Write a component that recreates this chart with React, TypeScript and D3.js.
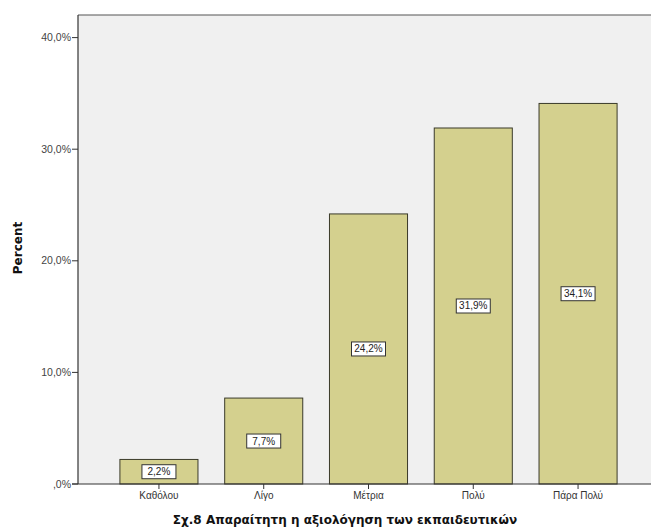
import React from "react";
import * as d3 from "d3";

const categories = ["Καθόλου", "Λίγο", "Μέτρια", "Πολύ", "Πάρα Πολύ"];
const percents = [2.2, 7.7, 24.2, 31.9, 34.1];
const yTicks = [0, 10, 20, 30, 40];
const xTitle = "Σχ.8 Απαραίτητη η αξιολόγηση των εκπαιδευτικών";
const yTitle = "Percent";

const W = 651;
const H = 531;
const left = 78;
const right = 659;
const top = 15;
const bottom = 484;

const fmt = (v: number) => (v === 0 ? ",0%" : v.toFixed(1).replace(".", ",") + "%");

export default function App() {
  const x = d3
    .scaleBand<string>()
    .domain(categories)
    .range([left, right])
    .paddingInner(0.255)
    .paddingOuter(0.4);
  const y = d3.scaleLinear().domain([0, 40]).range([bottom, bottom - 4 * 111.6]);
  const font = "Arial, 'Liberation Sans', sans-serif";
  const titleFont = "'DejaVu Sans', Verdana, sans-serif";

  return (
    <svg
      width={W}
      height={H}
      style={{ position: "absolute", left: 0, top: 0, background: "#fff" }}
      fontFamily={font}
    >
      <rect x={left} y={top} width={right - left} height={bottom - top} fill="#f0f0f0" />
      {categories.map((c, i) => {
        const bx = x(c)!;
        const by = y(percents[i]);
        const bw = x.bandwidth();
        const bh = bottom - by;
        const cx = bx + bw / 2;
        const cy = by + bh / 2;
        const label = fmt(percents[i]);
        return (
          <g key={c}>
            <rect x={bx} y={by} width={bw} height={bh} fill="#d4d08e" stroke="#3a3a2a" strokeWidth={1} />
            <rect x={cx - 17} y={cy - 7} width={34} height={14} fill="#fff" stroke="#333" strokeWidth={1} />
            <text x={cx} y={cy + 3.5} textAnchor="middle" fontSize={10} fill="#222">
              {label}
            </text>
          </g>
        );
      })}
      {/* frame */}
      <line x1={left} y1={top} x2={right} y2={top} stroke="#555" strokeWidth={1.2} />
      <line x1={left} y1={top} x2={left} y2={bottom} stroke="#333" strokeWidth={1.2} />
      <line x1={left - 6} y1={bottom} x2={right} y2={bottom} stroke="#333" strokeWidth={1.2} />
      {yTicks.map((t) => (
        <g key={t}>
          <line x1={left - 6} x2={left} y1={y(t)} y2={y(t)} stroke="#333" />
          <text x={left - 7} y={y(t) + 3.5} textAnchor="end" fontSize={10.5} fill="#444">
            {fmt(t)}
          </text>
        </g>
      ))}
      {categories.map((c) => {
        const cx = x(c)! + x.bandwidth() / 2;
        return (
          <g key={"t" + c}>
            <line x1={cx} x2={cx} y1={bottom} y2={bottom + 5} stroke="#333" />
            <text x={cx} y={bottom + 15} textAnchor="middle" fontSize={10} fill="#333">
              {c}
            </text>
          </g>
        );
      })}
      <text x={345} y={524} textAnchor="middle" fontSize={12} fontWeight="bold" fill="#111" fontFamily={titleFont}>
        {xTitle}
      </text>
      <text
        transform={`translate(22, 248) rotate(-90)`}
        textAnchor="middle"
        fontSize={12}
        fontWeight="bold"
        fill="#111"
        fontFamily={titleFont}
      >
        {yTitle}
      </text>
    </svg>
  );
}
